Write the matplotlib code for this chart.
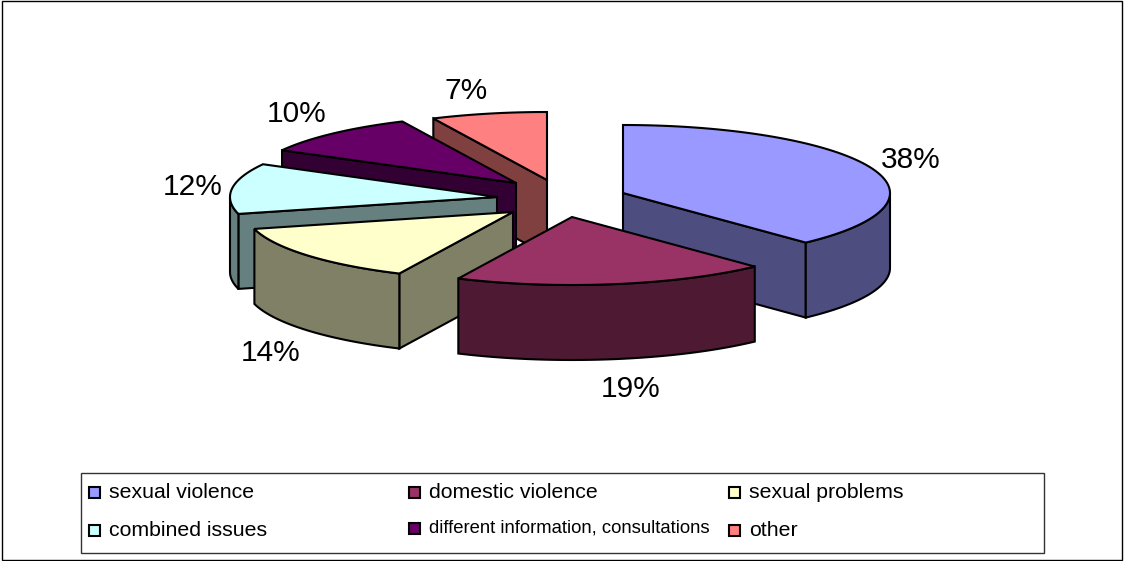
import numpy as np
import matplotlib
matplotlib.use('Agg')
import matplotlib.pyplot as plt
from matplotlib.patches import Polygon, Rectangle

plt.rcParams['font.family'] = ['Liberation Sans', 'DejaVu Sans']

categories = ['sexual violence', 'domestic violence', 'sexual problems',
              'combined issues', 'different information, consultations', 'other']
shares = [38, 19, 14, 12, 10, 7]
top_colors = ['#9999FF', '#993366', '#FFFFCC', '#CCFFFF', '#660066', '#FF8080']
side_colors = ['#4D4D80', '#4D1933', '#808066', '#668080', '#330033', '#804040']

# layout in pixels of the 1124x561 picture
RX, RY, DEPTH = 267, 68, 75
apexes = [(623, 193), (572, 217), (513, 212), (497, 197), (516, 183), (547, 180)]
label_pos = [(911, 160), (631, 389), (271, 353), (193, 187), (297, 114), (466, 91)]
legend_pos = [(89, 492), (409, 492), (729, 492), (89, 530), (409, 528), (729, 530)]
legend_size = [15.3, 15.3, 15.3, 15.3, 13.3, 15.3]
paint_order = [5, 4, 3, 2, 0, 1]
LW = 1.5


def arc(apex, t0, t1):
    # angles in degrees, clockwise from the top of the ellipse
    t = np.radians(np.linspace(t0, t1, 80))
    return np.column_stack([apex[0] + RX * np.sin(t), apex[1] - RY * np.cos(t)])


def draw_slice(ax, apex, t0, t1, top, side):
    down = np.array([0, DEPTH])
    a = np.array(apex, dtype=float)

    # cut faces that look towards the viewer
    for t, visible in ((t0, 180 < t0 < 360), (t1, 0 < t1 < 180)):
        if visible:
            p = arc(apex, t, t)[0]
            ax.add_patch(Polygon([a, p, p + down, a + down], fc=side, ec='black', lw=LW))

    # outer rim, only the front half of the ellipse shows
    r0, r1 = max(t0, 90), min(t1, 270)
    if r0 < r1:
        rim = arc(apex, r0, r1)
        ax.add_patch(Polygon(np.vstack([rim, rim[::-1] + down]), fc=side, ec='black', lw=LW))

    ax.add_patch(Polygon(np.vstack([a, arc(apex, t0, t1)]), fc=top, ec='black', lw=LW))


fig = plt.figure(figsize=(11.24, 5.61), dpi=100)
ax = fig.add_axes([0, 0, 1, 1])
ax.set_xlim(0, 1124)
ax.set_ylim(561, 0)
ax.axis('off')

# outer chart frame and legend frame
ax.add_patch(Rectangle((2, 1), 1120, 559, fc='white', ec='black', lw=1.0))

edges = np.concatenate([[0], np.cumsum(shares)]) / np.sum(shares) * 360
for i in paint_order:
    draw_slice(ax, apexes[i], edges[i], edges[i + 1], top_colors[i], side_colors[i])

for value, (x, y) in zip(shares, label_pos):
    ax.text(x, y, '{0}%'.format(value), fontsize=21.5, ha='center', va='center', color='black')

ax.add_patch(Rectangle((81, 473), 963, 80, fc='white', ec='#333333', lw=1.0))
for name, color, (x, y), size in zip(categories, top_colors, legend_pos, legend_size):
    ax.add_patch(Rectangle((x, y - 5), 11, 11, fc=color, ec='black', lw=1.5))
    ax.text(x + 20, y, name, fontsize=size, ha='left', va='center', color='black')

fig.savefig('out.png', dpi=100)
